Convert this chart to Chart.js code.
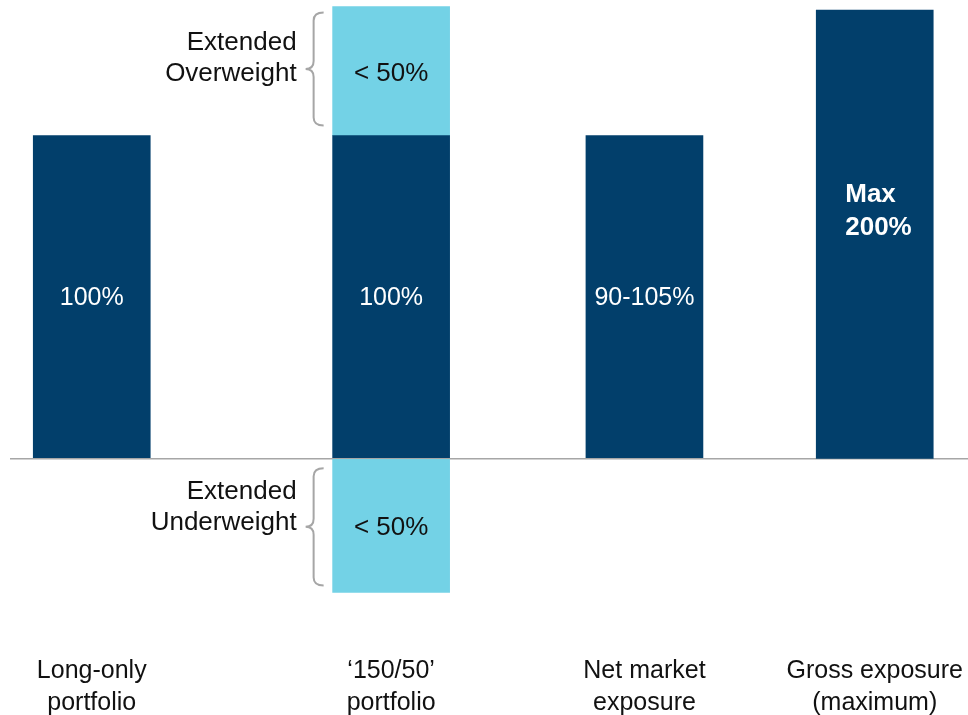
<!DOCTYPE html>
<html>
<head>
<meta charset="utf-8">
<script src="https://cdn.jsdelivr.net/npm/chart.js@4.4.1/dist/chart.umd.min.js"></script>
<style>
  html, body { margin: 0; padding: 0; background: #ffffff; }
  #wrap { width: 968px; height: 715px; position: relative; }
</style>
</head>
<body>
<div id="wrap"><canvas id="chart"></canvas></div>
<script>
// ---- data ----
const categories = [
  ['Long-only', 'portfolio'],
  ['\u2018150/50\u2019', 'portfolio'],
  ['Net market', 'exposure'],
  ['Gross exposure', '(maximum)']
];
const coreExposure        = [100, 100, 100, null];
const extendedOverweight  = [null, 40, null, null];
const extendedUnderweight = [null, -41.5, null, null];
const grossExposure       = [null, null, null, 200];

const coreLabels        = ['100%', '100%', '90-105%', null];
const overweightLabels  = [null, '< 50%', null, null];
const underweightLabels = [null, '< 50%', null, null];
const grossLabels       = [null, null, null, ['Max', '200%']];

const overweightBrace  = ['Extended', 'Overweight'];
const underweightBrace = ['Extended', 'Underweight'];

// ---- layout / style ----
const columnSlots = [0, 13, 24, 34];   // uneven spacing of the four columns
const NAVY = '#023F6B';
const CYAN = '#73D2E6';
const RULE = '#A6A6A6';
const FONT = "'Liberation Sans', Arial, Helvetica, sans-serif";

const toPoints = arr => arr.map((v, i) => ({ x: columnSlots[i], y: v }));

const datasets = [
  { label: 'Core', data: toPoints(coreExposure), backgroundColor: NAVY, yAxisID: 'y', stack: 's' },
  { label: 'Extended overweight', data: toPoints(extendedOverweight), backgroundColor: CYAN, yAxisID: 'y', stack: 's' },
  { label: 'Extended underweight', data: toPoints(extendedUnderweight), backgroundColor: CYAN, yAxisID: 'y', stack: 's' },
  { label: 'Gross exposure', data: toPoints(grossExposure), backgroundColor: NAVY, yAxisID: 'y2', stack: 's' }
];

// value labels drawn inside the bars
const barLabelStyles = [
  { labels: coreLabels, color: '#FFFFFF', font: `25px ${FONT}`, dy: 1, mode: 'center' },
  { labels: overweightLabels, color: '#111111', font: `26px ${FONT}`, dy: 3, mode: 'center' },
  { labels: underweightLabels, color: '#111111', font: `26px ${FONT}`, dy: 2, mode: 'center' },
  { labels: grossLabels, color: '#FFFFFF', font: `bold 26px ${FONT}`, dy: 0, mode: 'upper' }
];

const barLabelPlugin = {
  id: 'barLabels',
  afterDatasetsDraw(chart) {
    const ctx = chart.ctx;
    barLabelStyles.forEach((st, di) => {
      const meta = chart.getDatasetMeta(di);
      meta.data.forEach((el, i) => {
        const txt = st.labels[i];
        if (txt == null) return;
        const top = Math.min(el.y, el.base), bottom = Math.max(el.y, el.base);
        ctx.save();
        ctx.fillStyle = st.color;
        ctx.font = st.font;
        ctx.textBaseline = 'middle';
        if (st.mode === 'upper') {
          const lines = Array.isArray(txt) ? txt : [txt];
          const mid = top + (bottom - top) * 0.45;
          const lh = 33;
          const x0 = el.x - el.width / 2 + 29;
          ctx.textAlign = 'left';
          lines.forEach((ln, k) => {
            ctx.fillText(ln, x0, mid + (k - (lines.length - 1) / 2) * lh);
          });
        } else {
          ctx.textAlign = 'center';
          ctx.fillText(txt, el.x, (top + bottom) / 2 + st.dy);
        }
        ctx.restore();
      });
    });
  }
};

// curly braces with captions beside the extended segments
const braces = [
  { dataset: 1, index: 1, lines: overweightBrace, insetTop: 6, insetBottom: 10, textDy: 5 },
  { dataset: 2, index: 1, lines: underweightBrace, insetTop: 9, insetBottom: 7, textDy: -4 }
];

const bracePlugin = {
  id: 'braces',
  afterDatasetsDraw(chart) {
    const ctx = chart.ctx;
    braces.forEach(b => {
      const el = chart.getDatasetMeta(b.dataset).data[b.index];
      if (!el) return;
      const left = el.x - el.width / 2;
      const top = Math.min(el.y, el.base) + b.insetTop;
      const bottom = Math.max(el.y, el.base) - b.insetBottom;
      const mid = (top + bottom) / 2;
      const xEnd = left - 9, xLine = left - 19, xTip = left - 27;
      const r = 8;
      ctx.save();
      ctx.strokeStyle = RULE;
      ctx.lineWidth = 2;
      ctx.beginPath();
      ctx.moveTo(xEnd, top);
      ctx.quadraticCurveTo(xLine, top, xLine, top + r);
      ctx.lineTo(xLine, mid - r);
      ctx.quadraticCurveTo(xLine, mid, xTip, mid);
      ctx.quadraticCurveTo(xLine, mid, xLine, mid + r);
      ctx.lineTo(xLine, bottom - r);
      ctx.quadraticCurveTo(xLine, bottom, xEnd, bottom);
      ctx.stroke();

      ctx.fillStyle = '#111111';
      ctx.font = `26px ${FONT}`;
      ctx.textAlign = 'right';
      ctx.textBaseline = 'middle';
      const tx = left - 36;
      const lh = 31;
      b.lines.forEach((ln, k) => {
        ctx.fillText(ln, tx, mid + b.textDy - (b.lines.length - 1 - k) * lh);
      });
      ctx.restore();
    });
  }
};

new Chart(document.getElementById('chart'), {
  type: 'bar',
  data: { datasets },
  options: {
    responsive: true,
    maintainAspectRatio: false,
    animation: false,
    layout: { padding: { left: 10, right: 0, top: 0, bottom: 0 } },
    datasets: { bar: { barThickness: 117, borderWidth: 0 } },
    plugins: {
      legend: { display: false },
      tooltip: { enabled: false }
    },
    scales: {
      x: {
        type: 'linear',
        stacked: true,
        offset: false,
        min: -3.55,
        max: 38.05,
        grid: { display: false, drawTicks: false },
        border: { display: false },
        afterBuildTicks: s => { s.ticks = columnSlots.map(v => ({ value: v })); },
        afterFit: s => { s.height = 61.5; },
        ticks: {
          autoSkip: false,
          maxRotation: 0,
          padding: 2,
          color: '#111111',
          font: { family: FONT, size: 25, lineHeight: 1.26 },
          callback: v => {
            const i = columnSlots.indexOf(v);
            return i >= 0 ? categories[i] : '';
          }
        }
      },
      y: {
        stacked: true,
        min: -60.4,
        max: 142,
        border: { display: false },
        afterBuildTicks: s => { s.ticks = [{ value: 0 }]; },
        afterFit: s => { s.width = 0; },
        grid: { drawTicks: false, color: RULE, lineWidth: 1.5 },
        ticks: { display: false }
      },
      y2: {
        stacked: true,
        min: -86.95,
        max: 204.45,
        display: false
      }
    }
  },
  plugins: [barLabelPlugin, bracePlugin]
});
</script>
</body>
</html>
